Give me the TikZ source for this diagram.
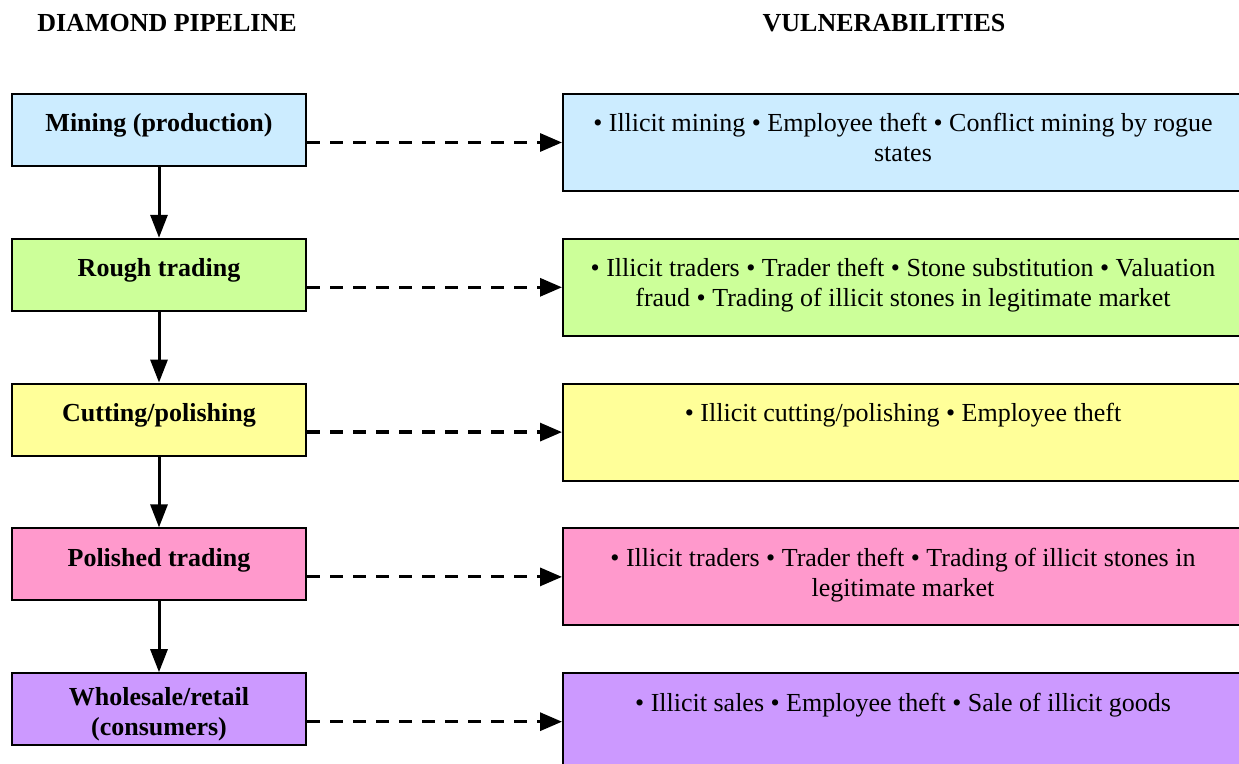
\documentclass[tikz,border=0pt]{standalone}
\usepackage{fontspec}
\setmainfont{Liberation Serif}
\usepackage{xcolor}
\usetikzlibrary{arrows.meta,positioning}
\definecolor{mineblue}{HTML}{CCECFF}
\definecolor{roughgreen}{HTML}{CCFF99}
\definecolor{cutyellow}{HTML}{FFFF99}
\definecolor{polpink}{HTML}{FF99CC}
\definecolor{retailviolet}{HTML}{CC99FF}

\begin{document}
\begin{tikzpicture}[node distance=35.4pt and 127.5pt,
  every node/.style={font=\fontsize{13}{15}\selectfont},
  head/.style={font=\fontsize{13}{15}\selectfont\bfseries},
  stage/.style={draw, line width=1pt, minimum width=147pt, inner ysep=0pt, align=center,
    text height=19pt, text depth=17pt, font=\fontsize{13}{15}\selectfont\bfseries},
  vuln/.style={draw, line width=1pt, minimum width=340pt, inner ysep=0pt, align=flush center,
    text width=330pt, text height=19pt, text depth=29.5pt},
  flow/.style={-{Triangle[length=11.5pt, width=8.5pt]}, line width=1.5pt},
  risk/.style={-{Triangle[length=11pt, width=9pt]}, line width=1.6pt, dash pattern=on 6.5pt off 5pt}]
  \useasboundingbox (0,0) rectangle (619.5pt,-382pt);
  \clip (0,0) rectangle (619.5pt,-382pt);
  \node[head] (hp) at (83.5pt,-11.5pt) {DIAMOND PIPELINE};
  \node[head] (hv) at (442pt,-11.5pt) {VULNERABILITIES};
  \node[stage, fill=mineblue, anchor=north west] (mine) at (5.5pt,-46.5pt) {Mining (production)};
  \node[stage, fill=roughgreen, below=of mine] (rough) {Rough trading};
  \node[stage, fill=cutyellow, below=of rough] (cut) {Cutting/polishing};
  \node[stage, fill=polpink, below=of cut] (pol) {Polished trading};
  \node[stage, fill=retailviolet, below=of pol, text height=31pt, text depth=5pt] (retail) {Wholesale/retail\\(consumers)};
  \node[vuln, fill=mineblue, right=of mine.north east, anchor=north west] (vmine)
    {\textbullet{} Illicit mining \textbullet{} Employee theft \textbullet{} Conflict mining by rogue\\states};
  \node[vuln, fill=roughgreen, right=of rough.north east, anchor=north west] (vrough)
    {\textbullet{} Illicit traders \textbullet{} Trader theft \textbullet{} Stone substitution \textbullet{} Valuation\\fraud \textbullet{} Trading of illicit stones in legitimate market};
  \node[vuln, fill=cutyellow, right=of cut.north east, anchor=north west] (vcut)
    {\textbullet{} Illicit cutting/polishing \textbullet{} Employee theft};
  \node[vuln, fill=polpink, right=of pol.north east, anchor=north west] (vpol)
    {\textbullet{} Illicit traders \textbullet{} Trader theft \textbullet{} Trading of illicit stones in\\legitimate market};
  \node[vuln, fill=retailviolet, right=of retail.north east, anchor=north west] (vretail)
    {\textbullet{} Illicit sales \textbullet{} Employee theft \textbullet{} Sale of illicit goods};
  \draw[flow] (mine) -- (rough);
  \draw[flow] (rough) -- (cut);
  \draw[flow] (cut) -- (pol);
  \draw[flow] (pol) -- (retail);
  \draw[risk] (vmine.west -| mine.east) -- (vmine.west);
  \draw[risk] (vrough.west -| rough.east) -- (vrough.west);
  \draw[risk] (vcut.west -| cut.east) -- (vcut.west);
  \draw[risk] (vpol.west -| pol.east) -- (vpol.west);
  \draw[risk] (vretail.west -| retail.east) -- (vretail.west);
\end{tikzpicture}
\end{document}
